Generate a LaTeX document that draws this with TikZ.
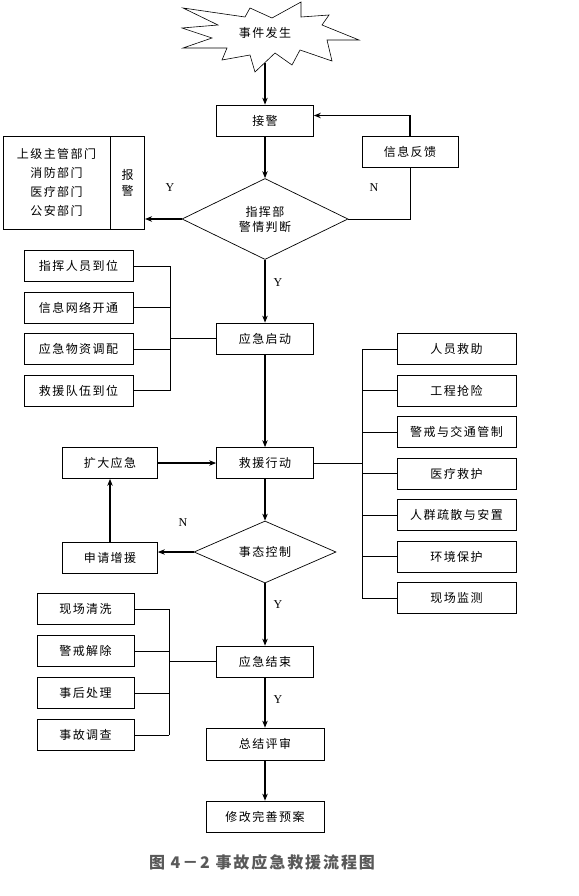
\documentclass[tikz,border=0pt]{standalone}
\usepackage{fontspec}
\setmainfont{Liberation Serif}
\newfontfamily\cjk[LetterSpace=12]{Noto Sans CJK SC}
\usetikzlibrary{arrows.meta,shapes.geometric}
\tikzset{>={Stealth[length=7pt,width=5.5pt]}}
\tikzset{
  box/.style={draw,line width=0.7pt,inner sep=0pt,minimum height=31pt,font=\cjk\fontsize{12}{15}\selectfont},
  dia/.style={draw,diamond,aspect=2,line width=0.7pt,inner sep=0pt,align=center,font=\cjk\fontsize{12}{15}\selectfont},
  flow/.style={->,line width=1.8pt},
  link/.style={line width=0.7pt},
  yn/.style={font=\fontsize{12}{14}\selectfont}
}

\begin{document}
\begin{tikzpicture}[x=1pt,y=-1pt]
\useasboundingbox (0,0) rectangle (578,896);
\draw[line width=0.6pt] (183,8) -- (245,17) -- (250,8) -- (272,18) -- (301,2) -- (301,17) -- (329,15) -- (322,25) -- (359,40) -- (327,40) -- (332,61) -- (300,50) -- (292,65) -- (275,53) -- (255,72) -- (250,55) -- (222,60) -- (227,48) -- (183,48) -- (212,38) -- (182,28) -- (218,25) -- cycle;
\node[font=\cjk\fontsize{12}{15}\selectfont] (fire) at (265,33) {事件发生};
\coordinate (fireb) at (265,63);
\node[box,minimum width=97pt] (jie) at (265,120.5) {接警};
\node[dia,minimum width=166pt,minimum height=81pt] (judge) at (265,219) {指挥部\\警情判断};
\node[box,minimum width=96pt] (feedback) at (410,151.5) {信息反馈};
\node[box,minimum width=107pt,minimum height=93pt,align=center,font=\cjk\fontsize{12}{19}\selectfont] (depts) at (56.5,182.5) {上级主管部门\\消防部门\\医疗部门\\公安部门};
\node[box,minimum width=34pt,minimum height=93pt,align=center,font=\cjk\fontsize{12}{16}\selectfont,anchor=west] (bao) at (depts.east) {报\\警};
\node[yn] (y1) at (170,188) {Y};
\node[yn] (n1) at (374,188) {N};
\node[yn] (y2) at (278,283) {Y};
\node[box,minimum width=97pt] (start) at (265,338.5) {应急启动};
\node[box,minimum width=109pt] (cmd) at (78.5,266) {指挥人员到位};
\node[box,minimum width=109pt] (net) at (78.5,307.5) {信息网络开通};
\node[box,minimum width=109pt] (supply) at (78.5,349) {应急物资调配};
\node[box,minimum width=109pt] (team) at (78.5,390.5) {救援队伍到位};
\coordinate (busa) at (170,0);
\node[box,minimum width=97pt] (rescue) at (265,463) {救援行动};
\node[box,minimum width=95pt] (expand) at (110,463) {扩大应急};
\node[box,minimum width=95pt] (reinf) at (110,557.5) {申请增援};
\node[dia,minimum width=142pt,minimum height=62pt] (control) at (265,552) {事态控制};
\node[yn] (n2) at (183,523) {N};
\node[box,minimum width=119pt] (people) at (456.5,349) {人员救助};
\node[box,minimum width=119pt] (works) at (456.5,390.5) {工程抢险};
\node[box,minimum width=119pt] (traffic) at (456.5,432) {警戒与交通管制};
\node[box,minimum width=119pt] (medical) at (456.5,473.5) {医疗救护};
\node[box,minimum width=119pt] (evac) at (456.5,515) {人群疏散与安置};
\node[box,minimum width=119pt] (env) at (456.5,556.5) {环境保护};
\node[box,minimum width=119pt] (monitor) at (456.5,598) {现场监测};
\coordinate (busb) at (362,0);
\node[yn] (y3) at (278,605) {Y};
\node[box,minimum width=97pt] (finish) at (265,661.5) {应急结束};
\node[box,minimum width=97pt] (clean) at (85.5,609) {现场清洗};
\node[box,minimum width=97pt] (lift) at (85.5,651) {警戒解除};
\node[box,minimum width=97pt] (after) at (85.5,693) {事后处理};
\node[box,minimum width=97pt] (probe) at (85.5,735) {事故调查};
\coordinate (busc) at (169,0);
\node[yn] (y4) at (278,700) {Y};
\node[box,minimum width=118pt,minimum height=32pt] (review) at (265,744) {总结评审};
\node[box,minimum width=118pt] (revise) at (265,816.5) {修改完善预案};
\node[font=\cjk\bfseries\fontsize{16}{19}\selectfont,text=black!65] (caption) at (262,862) {图 4－2 事故应急救援流程图};
\draw[flow] (fireb) -- (jie.north);
\draw[flow] (jie.south) -- (judge.north);
\draw[flow] (judge.west) -- (judge.west -| bao.east);
\draw[link] (judge.east) -| (feedback.south);
\draw[flow] (feedback.north) |- ([yshift=5pt]jie.east);
\draw[flow] (judge.south) -- (start.north);
\draw[link] (cmd.east) -- (cmd.east -| busa);
\draw[link] (net.east) -- (net.east -| busa);
\draw[link] (supply.east) -- (supply.east -| busa);
\draw[link] (team.east) -- (team.east -| busa);
\draw[link] (cmd.east -| busa) -- (team.east -| busa);
\draw[link] (start.west) -- (start.west -| busa);
\draw[flow] (start.south) -- (rescue.north);
\draw[flow] (rescue.south) -- (control.north);
\draw[flow] (control.west) -- (control.west -| reinf.east);
\draw[flow] (reinf.north) -- (expand.south);
\draw[flow] (expand.east) -- (rescue.west);
\draw[link] (rescue.east) -- (rescue.east -| busb);
\draw[link] (people.west -| busb) -- (monitor.west -| busb);
\draw[link] (people.west) -- (people.west -| busb);
\draw[link] (works.west) -- (works.west -| busb);
\draw[link] (traffic.west) -- (traffic.west -| busb);
\draw[link] (medical.west) -- (medical.west -| busb);
\draw[link] (evac.west) -- (evac.west -| busb);
\draw[link] (env.west) -- (env.west -| busb);
\draw[link] (monitor.west) -- (monitor.west -| busb);
\draw[flow] (control.south) -- (finish.north);
\draw[link] (clean.east) -- (clean.east -| busc);
\draw[link] (lift.east) -- (lift.east -| busc);
\draw[link] (after.east) -- (after.east -| busc);
\draw[link] (probe.east) -- (probe.east -| busc);
\draw[link] (clean.east -| busc) -- (probe.east -| busc);
\draw[link] (finish.west) -- (finish.west -| busc);
\draw[flow] (finish.south) -- (review.north);
\draw[flow] (review.south) -- (revise.north);
\end{tikzpicture}
\end{document}
